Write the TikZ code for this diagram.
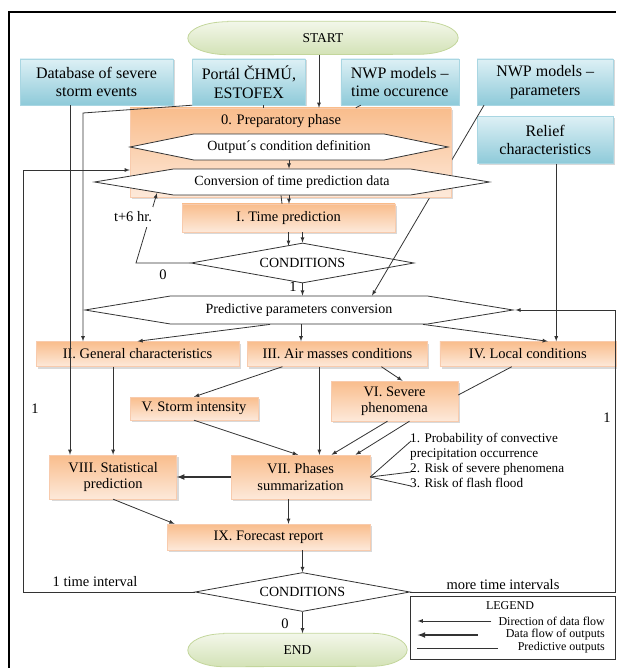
\documentclass[tikz,border=0pt]{standalone}
\usepackage{fontspec}
\setmainfont{Liberation Serif}
\usetikzlibrary{arrows, calc, positioning, shapes.geometric, shapes.symbols, shadows}

\definecolor{srctop}{HTML}{DDF0F5}
\definecolor{srcbot}{HTML}{8ECAD9}
\definecolor{srcline}{HTML}{A9D6E2}
\definecolor{phtop}{HTML}{F9BD8C}
\definecolor{phbot}{HTML}{FDE9DA}
\definecolor{phline}{HTML}{F8CBAD}
\definecolor{trmtop}{HTML}{F3F7EA}
\definecolor{trmbot}{HTML}{D3E2B6}
\definecolor{trmline}{HTML}{C3D69B}

\pgfdeclarelayer{bg}
\pgfsetlayers{bg,main}

\begin{document}
\begin{tikzpicture}[x=1pt, y=-1pt, >=latex, node distance=10pt,
		wire/.style = {draw=black!80, line width=0.8pt},
		flow/.style = {wire, ->},
		bigflow/.style = {wire, ->, line width=1.6pt},
		src/.style = {draw=srcline, top color=srctop, bottom color=srcbot, drop shadow={shadow xshift=1.5pt, shadow yshift=-1.5pt, opacity=.3}, align=center, inner sep=0pt, font=\fontsize{16}{18.5}\selectfont},
		phase/.style = {draw=phline, top color=phtop, bottom color=phbot, drop shadow={shadow xshift=2pt, shadow yshift=-2pt, opacity=.3}, align=center, inner sep=0pt, font=\fontsize{14.5}{16.5}\selectfont},
		hexa/.style = {signal, signal to=west and east, wire, fill=white, inner sep=0pt, font=\fontsize{14}{16}\selectfont},
		cond/.style = {diamond, aspect=5.5, wire, fill=white, inner sep=0pt, font=\fontsize{14}{16}\selectfont},
		term/.style = {minimum height=33pt, inner sep=0pt, font=\fontsize{13.5}{16}\selectfont},
		lbl/.style = {inner sep=1pt, font=\fontsize{14.5}{16}\selectfont},
		legtext/.style = {inner sep=1pt, font=\fontsize{12}{13.5}\selectfont}]

	\useasboundingbox (0,0) rectangle (616,668);
	\draw[line width=1.5pt] (9,668) -- (9,12) -- (616,12);

	\node[term, minimum width=270pt] (start) at (323,38) {START};
	\node[term, minimum width=219pt] (stop) at (297.5,650) {END};
	\begin{pgfonlayer}{bg}
		\foreach \t/\r in {start/40, stop/36}
			\path[draw=trmline, line width=0.8pt, top color=trmtop, bottom color=trmbot] ([xshift=\r pt]\t.north west) -- ([xshift=-\r pt]\t.north east) arc[start angle=90, end angle=-90, x radius=\r pt, y radius=16.5pt] -- ([xshift=\r pt]\t.south west) arc[start angle=270, end angle=90, x radius=\r pt, y radius=16.5pt] -- cycle;
	\end{pgfonlayer}

	\node[src, minimum width=153pt, minimum height=46pt] (db) at (96.5,82) {Database of severe\\storm events};
	\node[src, minimum width=113pt, minimum height=46pt] (chmu) [right=19pt of db] {Portál ČHMÚ,\\ESTOFEX};
	\node[src, minimum width=118pt, minimum height=46pt] (nwpt) [right=35pt of chmu] {NWP models –\\time occurence};
	\node[src, minimum width=136pt, minimum height=46pt] (nwpp) [right=18pt of nwpt] {NWP models –\\parameters};
	\node[src, minimum width=136pt, minimum height=47pt] (relief) [below=11pt of nwpp] {Relief\\characteristics};

	\node[phase, minimum width=213pt, minimum height=28pt] (1) at (288.5,218) {I. Time prediction};
	\node[cond, minimum width=223pt, minimum height=40pt] (c1) at (302.5,263) {CONDITIONS};
	\node[hexa, minimum width=428pt, minimum height=28pt, signal pointer angle=18.6] (pred) at (299,310) {Predictive parameters conversion};
	\node[phase, minimum width=203pt, minimum height=25pt] (2) at (137.5,354) {II. General characteristics};
	\node[phase, minimum width=180pt, minimum height=25pt] (3) [right=8pt of 2] {III. Air masses conditions};
	\node[phase, minimum width=176pt, minimum height=25pt] (4) [right=12pt of 3] {IV. Local conditions};
	\node[phase, minimum width=128pt, minimum height=23pt] (5) at (194,408.5) {V. Storm intensity};
	\node[phase, minimum width=127pt, minimum height=40pt] (6) at (394.5,401) {VI. Severe\\phenomena};
	\node[phase, minimum width=139pt, minimum height=44pt] (7) at (300.5,477) {VII. Phases\\summarization};
	\node[phase, minimum width=127pt, minimum height=44pt] (8) [left=54pt of 7] {VIII. Statistical\\prediction};
	\node[phase, minimum width=203pt, minimum height=26pt] (9) at (268.5,537) {IX. Forecast report};
	\node[cond, minimum width=215pt, minimum height=39pt] (c2) at (302.5,592) {CONDITIONS};

	\draw[flow] ([xshift=7pt]nwpp.south west) -- ([xshift=73pt]pred.north);

	\node[phase, minimum width=321pt, minimum height=89pt] (0) at (290.5,152.5) {};
	\node[lbl] (0a) at (281,121) {0. Preparatory phase};
	\node[hexa, minimum width=318pt, minimum height=26pt, signal pointer angle=23] (od) at (289,147) {Output´s condition definition};
	\node[hexa, minimum width=395pt, minimum height=26pt, signal pointer angle=18.7] (conv) at (292,182) {Conversion of time prediction data};

	\node[anchor=north west, align=left, inner sep=0pt, font=\fontsize{13.2}{15}\selectfont] (outs) at (410,433) {1. Probability of convective\\precipitation occurrence\\2. Risk of severe phenomena\\3. Risk of flash flood};

	\node[draw=black!80, line width=0.8pt, fill=white, minimum width=205pt, minimum height=63pt] (legend) at (512.5,627.5) {};
	\node[legtext] (legt) at (510,606) {LEGEND};
	\node[legtext, anchor=east] (l1) at (606,621) {Direction of data flow};
	\node[legtext, anchor=east] (l2) at (606,635) {Data flow of outputs};
	\node[legtext, anchor=east] (l3) at (606,648) {Predictive outputs};

	\draw[flow] ([xshift=-4pt]start.south) -- ([xshift=-4pt]start.south |- 0.north);
	\draw[flow] ([xshift=-26.5pt]db.south) -- ([xshift=-26.5pt]db.south |- 8.north);
	\coordinate (q) at (83,113);
	\draw[flow] (chmu.south west) -- (q) -- (q |- 2.north);
	\draw[wire] ([xshift=14.5pt]chmu.south) -- ([xshift=14.5pt]chmu.south |- 0.north);
	\draw[wire] ([xshift=-39pt]nwpt.south) -- ([xshift=-44pt]nwpt.south |- 0.north);
	\draw[flow] ([xshift=11pt]relief.south) -- ([xshift=11pt]relief.south |- 4.north);

	\draw[flow] (od.south) -- (od.south |- conv.north);
	\draw[flow] ([xshift=-3pt]conv.south) -- ([xshift=-3pt]conv.south |- 1.north);
	\draw[wire] ([xshift=-11pt]conv.south) -- ([xshift=-10pt]conv.south |- 1.north);
	\draw[flow] (1.south) -- ++(0,13.5);
	\draw[flow] (1.south -| c1.north) -- (c1.north);
	\coordinate (k) at (136,263);
	\coordinate (t) at (157,193);
	\draw[flow] (c1.west) -- (k) -- (t);
	\node[lbl, fill=white, inner ysep=5pt] (t6) at (133,217) {t+6 hr.};
	\node[lbl] (n0) at (163,275) {0};
	\draw[flow] (c1.south) -- (c1.south |- pred.north);
	\node[lbl] (n1) at (293,287) {1};

	\draw[flow] ([xshift=-29pt]pred.south) -- (2.north);
	\draw[flow] ([xshift=2pt]pred.south) -- ([xshift=2pt]pred.south |- 3.north);
	\draw[flow] ([xshift=124pt]pred.south) -- ([xshift=20pt]4.north);
	\draw[flow] ([xshift=-55pt]3.south) -- (5.north);
	\draw[flow] ([xshift=-18pt]3.south) -- ([xshift=-18pt]3.south |- 7.north);
	\draw[flow] ([xshift=44pt]3.south) -- ([xshift=8pt]6.north);
	\draw[wire] ([xshift=-16pt]4.south) -- ([yshift=6pt]6.east);
	\draw[flow] (5.south) -- ([xshift=-2.5pt]7.north);
	\draw[flow] ([xshift=-7pt]6.south) -- ([xshift=31pt]7.north);
	\draw[flow] ([xshift=15pt]6.south) -- ([xshift=55pt]7.north);
	\draw[bigflow] (7.west) -- (8.east);
	\draw[flow] (2.south -| 8.north) -- (8.north);
	\draw[flow] (8.south) -- ([xshift=-94pt]9.north);
	\draw[flow] ([xshift=-12pt]7.south) -- ([xshift=-12pt]7.south |- 9.north);
	\draw[flow] (9.south -| c2.north) -- (c2.north);
	\draw[flow] (c2.south) -- (c2.south |- stop.north);
	\node[lbl] (n2) at (285,624) {0};

	\coordinate (lp) at (23,170);
	\draw[flow] (c2.west) -| (lp) -- (lp -| 0.west);
	\node[lbl] (n3) at (95,582) {1 time interval};
	\node[lbl] (n4) at (35,409) {1};
	\coordinate (rp) at (615,310);
	\draw[flow] (c2.east) -| (rp) -- (pred.east);
	\node[lbl] (n5) at (503,585) {more time intervals};
	\node[lbl] (n6) at (607,418) {1};

	\coordinate (o1) at (411,441);
	\coordinate (o2) at (411,472);
	\coordinate (o3) at (411,486);
	\foreach \o in {o1,o2,o3}
		\draw[wire] (7.east) -- (\o);

	\draw[flow] ([xshift=-6pt]l1.west) -- ([xshift=8pt]l1.west -| legend.west);
	\draw[bigflow] ([xshift=-27pt]l2.west) -- ([xshift=8pt]l2.west -| legend.west);
	\draw[wire] ([xshift=-19pt]l3.west) -- ([xshift=7pt]l3.west -| legend.west);
\end{tikzpicture}
\end{document}
